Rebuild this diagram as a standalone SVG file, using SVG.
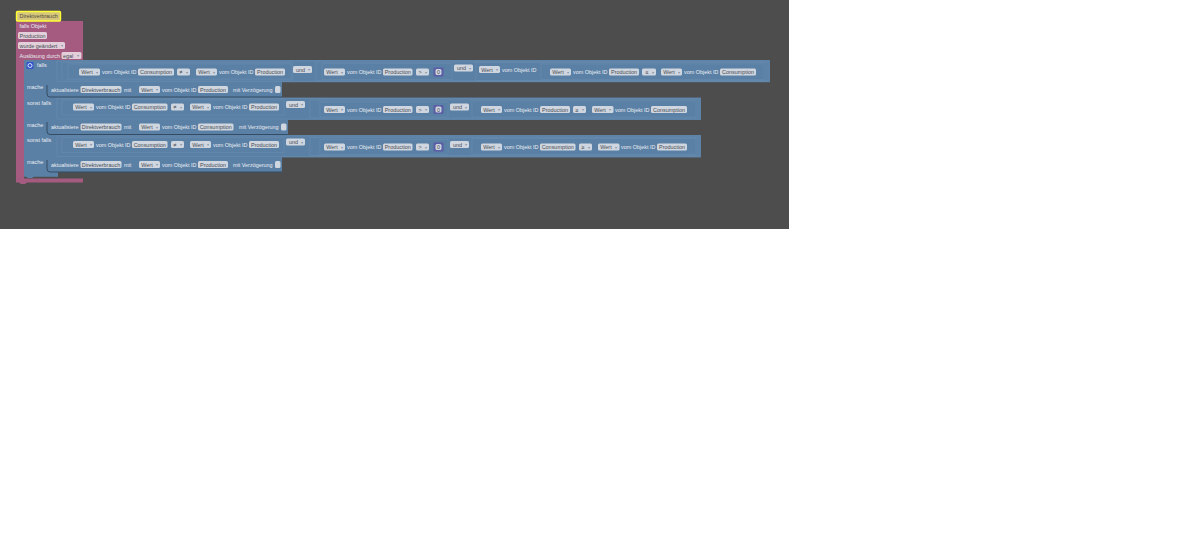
<svg xmlns="http://www.w3.org/2000/svg" width="1200" height="540" viewBox="0 0 1200 540">
<style>
text{font-family:"Liberation Sans",Arial,sans-serif;font-size:5.45px;fill:#e8edf3}
.c{text-anchor:middle;fill:#474c55}
.blue{fill:#5b80a5}
.pur{fill:#a55b80}
.o{fill:none;stroke:#668aae;stroke-width:.7}
.p{fill:#cfd6df;rx:1.5}
.pp{fill:#e2cfd9;rx:1.5}
.num{fill:#5b5da5}
.a{fill:#8794a5;font-size:4px}
.s{fill:none;stroke:#344c64;stroke-width:1}
</style>
<rect width="1200" height="540" fill="#fff"/>
<rect width="789" height="229" fill="#4d4d4d"/>

<g id="trigger">
<path class="pur" d="M16 21H83V60H24V178.500H83V182.500H27L25 184H21L19 182.500H16Z"/>
<rect x="16.500" y="11.500" width="44" height="9.500" rx="1" fill="#d6c77c" stroke="#ffff33" stroke-width="1.4"/>
<text x="19.500" y="17.800" style="fill:#4f4a3a">Direktverbrauch</text>
<text x="19.500" y="27.500">falls Objekt</text>
<rect class="pp" x="18" y="32" width="29" height="7"/><text class="c" x="32.500" y="37.500">Production</text>
<rect class="pp" x="18" y="42" width="47" height="7"/><text x="19.500" y="47.500" style="fill:#474c55">wurde geändert</text><text class="c a" x="61.500" y="47.300">▾</text>
<text x="19.500" y="57.500">Auslösung durch</text>
<rect class="pp" x="61.500" y="52" width="20" height="7"/><text x="63" y="57.500" style="fill:#474c55">egal</text><text class="c a" x="77.500" y="57.300">▾</text>
</g>

<g id="if-block">
<path class="blue" d="M24 60H770V82.300H282V97.500H701V120H288V135H701V157.500H282V172H58V176.700H34L32 178H28L26 176.700H24Z"/>
<path class="s" d="M47 85V94Q47 97 50 97H282M47 122V131Q47 134.500 50 134.500H288M47 160V168.500Q47 172 50 172H282"/>
<rect x="26.500" y="62" width="7" height="7" rx="1" fill="#3355cc"/><circle cx="30" cy="65.500" r="2" fill="none" stroke="#fff" stroke-width=".8"/>
<text x="37" y="67">falls</text>
<text x="27" y="89">mache</text>
<text x="27" y="104.500">sonst falls</text>
<text x="27" y="126.500">mache</text>
<text x="27" y="142">sonst falls</text>
<text x="27" y="164">mache</text>
<rect class="o" x="57" y="61" width="712" height="20.500"/>
<rect class="o" x="62" y="62.500" width="230" height="17.500"/>
<rect class="o" x="68" y="64" width="224" height="15"/>
<rect class="o" x="316" y="62" width="452" height="19"/>
<rect class="o" x="322" y="63.500" width="130" height="16"/>
<rect class="o" x="476" y="62.500" width="290" height="18"/>
<rect class="o" x="541" y="64" width="223" height="15.500"/>
<rect class="o" x="57" y="98.500" width="643" height="20.500"/>
<rect class="o" x="62" y="100" width="222" height="15"/>
<rect class="o" x="310" y="100" width="388" height="18"/>
<rect class="o" x="320" y="102" width="128" height="15"/>
<rect class="o" x="472" y="101" width="224" height="16"/>
<rect class="o" x="57" y="136" width="643" height="20.500"/>
<rect class="o" x="62" y="137.500" width="222" height="15"/>
<rect class="o" x="310" y="137.500" width="388" height="18"/>
<rect class="o" x="320" y="139.500" width="128" height="15"/>
<rect class="o" x="472" y="138.500" width="224" height="16"/>
</g>

<g id="cond-1">
<rect class="p" x="79" y="68.500" width="21" height="7"/><text class="c" x="87" y="74">Wert</text><text class="c a" x="96.500" y="73.800">▾</text>
<text x="102" y="74">vom Objekt ID</text>
<rect class="p" x="138" y="68.500" width="36" height="7"/><text class="c" x="156" y="74">Consumption</text>
<rect class="p" x="177" y="68.500" width="13" height="7"/><text class="c" x="181" y="74">≠</text><text class="c a" x="186.500" y="73.800">▾</text>
<rect class="p" x="196" y="68.500" width="21" height="7"/><text class="c" x="204" y="74">Wert</text><text class="c a" x="213.500" y="73.800">▾</text>
<text x="219" y="74">vom Objekt ID</text>
<rect class="p" x="255" y="68.500" width="30" height="7"/><text class="c" x="270" y="74">Production</text>
<rect class="p" x="293" y="66" width="19" height="7"/><text class="c" x="300.500" y="71.500">und</text><text class="c a" x="308.500" y="71.300">▾</text>
<rect class="p" x="324" y="68.500" width="21" height="7"/><text class="c" x="332" y="74">Wert</text><text class="c a" x="341.500" y="73.800">▾</text>
<text x="347" y="74">vom Objekt ID</text>
<rect class="p" x="383" y="68.500" width="29.500" height="7"/><text class="c" x="397.700" y="74">Production</text>
<rect class="p" x="416" y="68.500" width="13" height="7"/><text class="c" x="420" y="74">&gt;</text><text class="c a" x="425.500" y="73.800">▾</text>
<rect class="num" x="433.500" y="67.500" width="10" height="9" rx="1"/><rect class="p" x="435.500" y="69" width="6" height="6"/><text class="c" x="438.500" y="74">0</text>
<rect class="p" x="454" y="64.500" width="19" height="7"/><text class="c" x="461.500" y="70">und</text><text class="c a" x="469.500" y="69.800">▾</text>
<rect class="p" x="479" y="66" width="21" height="7"/><text class="c" x="487" y="71.500">Wert</text><text class="c a" x="496.500" y="71.300">▾</text>
<text x="502" y="71.500">vom Objekt ID</text>
<rect class="p" x="550" y="68.500" width="21" height="7"/><text class="c" x="558" y="74">Wert</text><text class="c a" x="567.500" y="73.800">▾</text>
<text x="573" y="74">vom Objekt ID</text>
<rect class="p" x="609" y="68.500" width="30" height="7"/><text class="c" x="624" y="74">Production</text>
<rect class="p" x="642" y="68.500" width="14" height="7"/><text class="c" x="647" y="74">≤</text><text class="c a" x="652.500" y="73.800">▾</text>
<rect class="p" x="661" y="68.500" width="21" height="7"/><text class="c" x="669" y="74">Wert</text><text class="c a" x="678.500" y="73.800">▾</text>
<text x="684" y="74">vom Objekt ID</text>
<rect class="p" x="720" y="68.500" width="36" height="7"/><text class="c" x="738" y="74">Consumption</text>
</g>

<g id="update-1">
<text x="51" y="91.500">aktualisiere</text>
<rect class="p" x="80.500" y="86" width="41" height="7"/><text class="c" x="101" y="91.500">Direktverbrauch</text>
<text x="124" y="91.500">mit</text>
<rect class="p" x="139" y="86" width="21" height="7"/><text class="c" x="147" y="91.500">Wert</text><text class="c a" x="156.500" y="91.300">▾</text>
<text x="162" y="91.500">vom Objekt ID</text>
<rect class="p" x="198" y="86" width="30" height="7"/><text class="c" x="213" y="91.500">Production</text>
<text x="233" y="91.500">mit Verzögerung</text>
<rect class="p" x="275" y="86" width="5.500" height="7"/>
</g>

<g id="cond-2">
<rect class="p" x="73" y="103.500" width="21" height="7"/><text class="c" x="81" y="109">Wert</text><text class="c a" x="90.500" y="108.800">▾</text>
<text x="96" y="109">vom Objekt ID</text>
<rect class="p" x="132" y="103.500" width="35.500" height="7"/><text class="c" x="149.700" y="109">Consumption</text>
<rect class="p" x="171" y="103.500" width="13" height="7"/><text class="c" x="175" y="109">≠</text><text class="c a" x="180.500" y="108.800">▾</text>
<rect class="p" x="190" y="103.500" width="21" height="7"/><text class="c" x="198" y="109">Wert</text><text class="c a" x="207.500" y="108.800">▾</text>
<text x="213" y="109">vom Objekt ID</text>
<rect class="p" x="249" y="103.500" width="30" height="7"/><text class="c" x="264" y="109">Production</text>
<rect class="p" x="286" y="101" width="19" height="7"/><text class="c" x="293.500" y="106.500">und</text><text class="c a" x="301.500" y="106.300">▾</text>
<rect class="p" x="324" y="106" width="21" height="7"/><text class="c" x="332" y="111.500">Wert</text><text class="c a" x="341.500" y="111.300">▾</text>
<text x="347" y="111.500">vom Objekt ID</text>
<rect class="p" x="383" y="106" width="29.500" height="7"/><text class="c" x="397.700" y="111.500">Production</text>
<rect class="p" x="416" y="106" width="13" height="7"/><text class="c" x="420" y="111.500">&gt;</text><text class="c a" x="425.500" y="111.300">▾</text>
<rect class="num" x="433.500" y="105" width="10" height="9" rx="1"/><rect class="p" x="435.500" y="106.500" width="6" height="6"/><text class="c" x="438.500" y="111.500">0</text>
<rect class="p" x="450" y="103.500" width="19" height="7"/><text class="c" x="457.500" y="109">und</text><text class="c a" x="465.500" y="108.800">▾</text>
<rect class="p" x="481" y="106" width="21" height="7"/><text class="c" x="489" y="111.500">Wert</text><text class="c a" x="498.500" y="111.300">▾</text>
<text x="504" y="111.500">vom Objekt ID</text>
<rect class="p" x="540" y="106" width="30" height="7"/><text class="c" x="555" y="111.500">Production</text>
<rect class="p" x="573" y="106" width="13" height="7"/><text class="c" x="577" y="111.500">≥</text><text class="c a" x="582.500" y="111.300">▾</text>
<rect class="p" x="592" y="106" width="21.500" height="7"/><text class="c" x="600" y="111.500">Wert</text><text class="c a" x="609.500" y="111.300">▾</text>
<text x="615" y="111.500">vom Objekt ID</text>
<rect class="p" x="651" y="106" width="36" height="7"/><text class="c" x="669" y="111.500">Consumption</text>
</g>

<g id="update-2">
<text x="51" y="129">aktualisiere</text>
<rect class="p" x="80.500" y="123.500" width="41" height="7"/><text class="c" x="101" y="129">Direktverbrauch</text>
<text x="124" y="129">mit</text>
<rect class="p" x="139" y="123.500" width="21" height="7"/><text class="c" x="147" y="129">Wert</text><text class="c a" x="156.500" y="128.800">▾</text>
<text x="162" y="129">vom Objekt ID</text>
<rect class="p" x="198" y="123.500" width="35.500" height="7"/><text class="c" x="215.700" y="129">Consumption</text>
<text x="239" y="129">mit Verzögerung</text>
<rect class="p" x="281" y="123.500" width="5.500" height="7"/>
</g>

<g id="cond-3">
<rect class="p" x="73" y="141" width="21" height="7"/><text class="c" x="81" y="146.500">Wert</text><text class="c a" x="90.500" y="146.300">▾</text>
<text x="96" y="146.500">vom Objekt ID</text>
<rect class="p" x="132" y="141" width="35.500" height="7"/><text class="c" x="149.700" y="146.500">Consumption</text>
<rect class="p" x="171" y="141" width="13" height="7"/><text class="c" x="175" y="146.500">≠</text><text class="c a" x="180.500" y="146.300">▾</text>
<rect class="p" x="190" y="141" width="21" height="7"/><text class="c" x="198" y="146.500">Wert</text><text class="c a" x="207.500" y="146.300">▾</text>
<text x="213" y="146.500">vom Objekt ID</text>
<rect class="p" x="249" y="141" width="30" height="7"/><text class="c" x="264" y="146.500">Production</text>
<rect class="p" x="286" y="138.500" width="19" height="7"/><text class="c" x="293.500" y="144">und</text><text class="c a" x="301.500" y="143.800">▾</text>
<rect class="p" x="324" y="143.500" width="21" height="7"/><text class="c" x="332" y="149">Wert</text><text class="c a" x="341.500" y="148.800">▾</text>
<text x="347" y="149">vom Objekt ID</text>
<rect class="p" x="383" y="143.500" width="29.500" height="7"/><text class="c" x="397.700" y="149">Production</text>
<rect class="p" x="416" y="143.500" width="13" height="7"/><text class="c" x="420" y="149">&gt;</text><text class="c a" x="425.500" y="148.800">▾</text>
<rect class="num" x="433.500" y="142.500" width="10" height="9" rx="1"/><rect class="p" x="435.500" y="144" width="6" height="6"/><text class="c" x="438.500" y="149">0</text>
<rect class="p" x="450" y="141" width="19" height="7"/><text class="c" x="457.500" y="146.500">und</text><text class="c a" x="465.500" y="146.300">▾</text>
<rect class="p" x="481" y="143.500" width="21" height="7"/><text class="c" x="489" y="149">Wert</text><text class="c a" x="498.500" y="148.800">▾</text>
<text x="504" y="149">vom Objekt ID</text>
<rect class="p" x="540" y="143.500" width="35.500" height="7"/><text class="c" x="557.700" y="149">Consumption</text>
<rect class="p" x="579" y="143.500" width="13" height="7"/><text class="c" x="583" y="149">≥</text><text class="c a" x="588.500" y="148.800">▾</text>
<rect class="p" x="598" y="143.500" width="21.500" height="7"/><text class="c" x="606" y="149">Wert</text><text class="c a" x="615.500" y="148.800">▾</text>
<text x="621" y="149">vom Objekt ID</text>
<rect class="p" x="657" y="143.500" width="30" height="7"/><text class="c" x="672" y="149">Production</text>
</g>

<g id="update-3">
<text x="51" y="166.500">aktualisiere</text>
<rect class="p" x="80.500" y="161" width="41" height="7"/><text class="c" x="101" y="166.500">Direktverbrauch</text>
<text x="124" y="166.500">mit</text>
<rect class="p" x="139" y="161" width="21" height="7"/><text class="c" x="147" y="166.500">Wert</text><text class="c a" x="156.500" y="166.300">▾</text>
<text x="162" y="166.500">vom Objekt ID</text>
<rect class="p" x="198" y="161" width="30" height="7"/><text class="c" x="213" y="166.500">Production</text>
<text x="233" y="166.500">mit Verzögerung</text>
<rect class="p" x="275" y="161" width="5.500" height="7"/>
</g>

<g id="connectors"/>
</svg>
